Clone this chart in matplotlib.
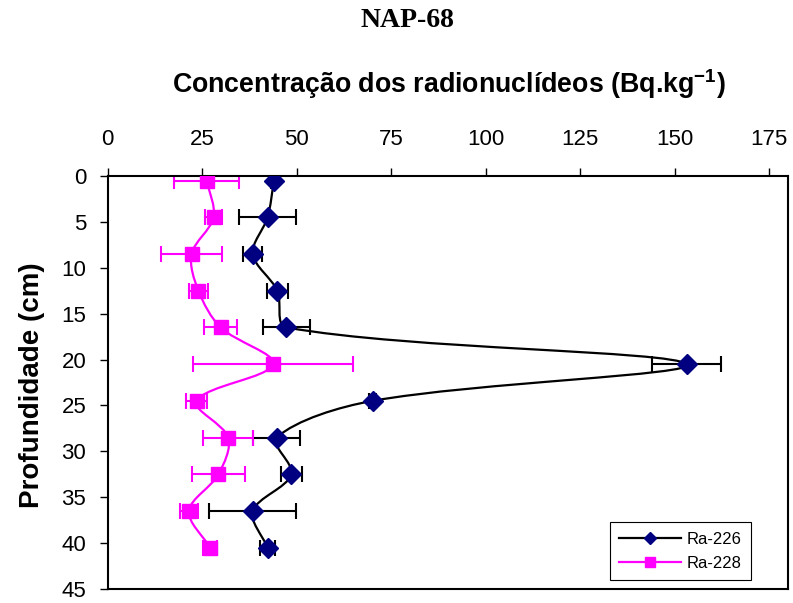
import matplotlib
matplotlib.use("Agg")
import matplotlib.pyplot as plt
import numpy as np
from matplotlib.lines import Line2D
from matplotlib.patches import PathPatch
from matplotlib.path import Path


depth = [0.5, 4.5, 8.5, 12.5, 16.5, 20.5, 24.5, 28.5, 32.5, 36.5, 40.5]

ra226 = [44.0, 42.3, 38.4, 44.9, 47.3, 153.2, 70.1, 44.7, 48.6, 38.4, 42.3]
ra226_err = [0.8, 7.6, 2.5, 2.7, 6.2, 9.1, 1.0, 6.3, 2.7, 11.5, 2.0]

ra228 = [26.2, 28.0, 22.2, 24.0, 29.9, 43.8, 23.5, 31.9, 29.3, 21.5, 27.1]
ra228_err = [8.6, 2.2, 8.0, 2.5, 4.4, 21.1, 2.8, 6.6, 7.1, 2.3, 1.9]

x_ticks = [0, 25, 50, 75, 100, 125, 150, 175]
y_ticks = [0, 5, 10, 15, 20, 25, 30, 35, 40, 45]

NAVY = "#000080"
MAGENTA = "#FF00FF"

plt.rcParams["font.family"] = ["Liberation Sans", "DejaVu Sans"]
plt.rcParams["mathtext.fontset"] = "custom"
plt.rcParams["mathtext.rm"] = "Liberation Sans"
plt.rcParams["mathtext.bf"] = "Liberation Sans:bold"


def smooth_path(ax, xs, ys):
    # Excel-like smoothed line: Bezier segments, tangents scaled by chord length
    # (worked out in display space, then mapped back to data coordinates)
    to_disp = ax.transData
    pts = to_disp.transform(np.column_stack([xs, ys]).astype(float))
    n = len(pts)
    verts = [pts[0]]
    codes = [Path.MOVETO]
    for i in range(n - 1):
        p0 = pts[i - 1] if i > 0 else pts[i]
        p1 = pts[i]
        p2 = pts[i + 1]
        p3 = pts[i + 2] if i + 2 < n else pts[i + 1]
        d01 = np.hypot(*(p1 - p0))
        d12 = np.hypot(*(p2 - p1))
        d23 = np.hypot(*(p3 - p2))
        f1 = d12 / (d01 + d12) / 3.0 if d01 + d12 > 0 else 0.0
        f2 = d12 / (d12 + d23) / 3.0 if d12 + d23 > 0 else 0.0
        c1 = p1 + (p2 - p0) * f1
        c2 = p2 - (p3 - p1) * f2
        verts += [c1, c2, p2]
        codes += [Path.CURVE4] * 3
    verts = to_disp.inverted().transform(np.array(verts))
    return Path(verts, codes)


fig = plt.figure(figsize=(7.93, 6.03), dpi=100)
ax = fig.add_axes([107.7 / 793, 1 - 589 / 603, 680.3 / 793, 413 / 603])

ax.set_xlim(0, 180)
ax.set_ylim(45, 0)

# error bars
ax.errorbar(ra226, depth, xerr=ra226_err, fmt="none", ecolor="black",
            elinewidth=1.5, capsize=6, capthick=1.5, zorder=2)
ax.errorbar(ra228, depth, xerr=ra228_err, fmt="none", ecolor=MAGENTA,
            elinewidth=1.5, capsize=6, capthick=1.5, zorder=2)

# smoothed lines
ax.add_patch(PathPatch(smooth_path(ax, ra226, depth), facecolor="none",
                       edgecolor="black", linewidth=1.6, zorder=3))
ax.add_patch(PathPatch(smooth_path(ax, ra228, depth), facecolor="none",
                       edgecolor=MAGENTA, linewidth=1.6, zorder=3))

# markers
ax.plot(ra226, depth, linestyle="none", marker="D", markersize=10,
        color=NAVY, zorder=4)
ax.plot(ra228, depth, linestyle="none", marker="s", markersize=10,
        color=MAGENTA, zorder=4)

ax.set_xticks(x_ticks)
ax.set_yticks(y_ticks)
ax.xaxis.tick_top()
ax.tick_params(axis="both", direction="out", length=5.5, width=1,
               labelsize=16, color="black")
ax.tick_params(axis="x", pad=13)
ax.tick_params(axis="y", pad=10)
for spine in ax.spines.values():
    spine.set_linewidth(1.5)
    spine.set_color("black")

fig.text(449 / 793, 1 - 93 / 603,
         r"Concentração dos radionuclídeos (Bq.kg$\mathbf{^{-1}}$)",
         ha="center", va="baseline", fontsize=19.3, fontweight="bold")
fig.text(32.5 / 793, 1 - 385 / 603, "Profundidade (cm)", rotation=90,
         ha="center", va="center", fontsize=20, fontweight="bold")

fig.text(407 / 793, 1 - 27 / 603, "NAP-68", ha="center", va="baseline",
         fontsize=20, fontweight="bold", family=["Liberation Serif", "DejaVu Serif"])

handles = [
    Line2D([], [], color="black", linewidth=1.6, marker="D", markersize=6.5,
           markerfacecolor=NAVY, markeredgecolor=NAVY),
    Line2D([], [], color=MAGENTA, linewidth=1.6, marker="s", markersize=7,
           markerfacecolor=MAGENTA, markeredgecolor=MAGENTA),
]
leg = ax.legend(handles, ["Ra-226", "Ra-228"], loc="lower right",
                bbox_to_anchor=(0.945, 0.022), borderaxespad=0, fontsize=12,
                handlelength=3.7, handletextpad=0.35, fancybox=False,
                framealpha=1, edgecolor="black", borderpad=0.55, labelspacing=0.55)
leg.get_frame().set_linewidth(0.8)

fig.savefig("out.png", dpi=100)
